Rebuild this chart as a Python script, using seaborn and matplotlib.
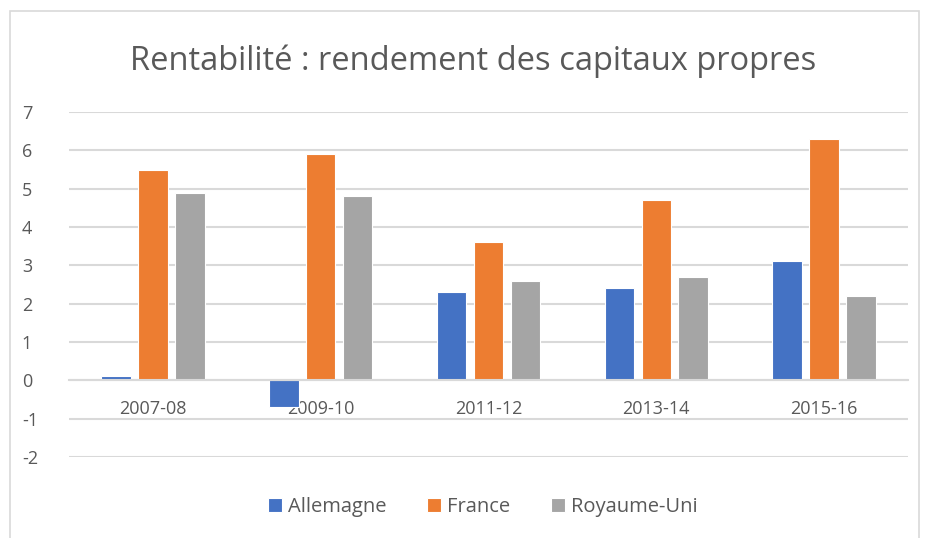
import matplotlib.pyplot as plt
import pandas as pd
import seaborn as sns
from matplotlib.patches import Rectangle

periods = ['2007-08', '2009-10', '2011-12', '2013-14', '2015-16']
allemagne = [0.1, -0.7, 2.3, 2.4, 3.1]
france = [5.5, 5.9, 3.6, 4.7, 6.3]
royaume_uni = [4.9, 4.8, 2.6, 2.7, 2.2]
countries = ['Allemagne', 'France', 'Royaume-Uni']
colors = ['#4472C4', '#ED7D31', '#A5A5A5']
y_ticks = [-2, -1, 0, 1, 2, 3, 4, 5, 6, 7]

rows = []
for name, values in zip(countries, [allemagne, france, royaume_uni]):
    for p, v in zip(periods, values):
        rows.append({'Période': p, 'Pays': name, 'Valeur': v})
df = pd.DataFrame(rows)

sns.set_theme(style='white')
plt.rcParams['font.family'] = ['Open Sans', 'DejaVu Sans']
text_color = '#595959'
grid_color = '#D9D9D9'

fig = plt.figure(figsize=(9.25, 5.38), dpi=100)
ax = fig.add_axes([0.0746, 0.1506, 0.907, 0.6412])

sns.barplot(data=df, x='Période', y='Valeur', hue='Pays', order=periods,
            hue_order=countries, palette=colors, width=0.66, gap=0.2,
            edgecolor='white', linewidth=0.8, saturation=1, ax=ax, legend=True)

ax.set_ylim(-2, 7)
ax.set_xlim(-0.5, len(periods) - 0.5)
ax.set_yticks(y_ticks)
ax.set_yticklabels([str(t) for t in y_ticks])
ax.yaxis.grid(True, color=grid_color, linewidth=1.5)
ax.set_axisbelow(True)
ax.set_xlabel('')
ax.set_ylabel('')
for side in ['left', 'right', 'top']:
    ax.spines[side].set_visible(False)
ax.spines['bottom'].set_position(('data', 0))
ax.spines['bottom'].set_color(grid_color)
ax.spines['bottom'].set_linewidth(1.5)
ax.tick_params(axis='both', length=0, labelsize=13, labelcolor=text_color)
ax.tick_params(axis='x', pad=14)
ax.tick_params(axis='y', pad=34)
for lbl in ax.get_yticklabels():
    lbl.set_horizontalalignment('left')

handles, labels = ax.get_legend_handles_labels()
ax.get_legend().remove()
fig.legend(handles, labels, loc='center', bbox_to_anchor=(0.522, 0.057), ncol=3,
           frameon=False, fontsize=14.5, labelcolor=text_color,
           handlelength=0.7, handleheight=0.7, handletextpad=0.3,
           columnspacing=2.0)

fig.text(0.512, 0.887, 'Rentabilité : rendement des capitaux propres',
         ha='center', va='center', fontsize=23.5, color=text_color)

fig.patches.append(Rectangle((0.011, -0.01), 0.982, 0.99, transform=fig.transFigure,
                             fill=False, edgecolor=grid_color, linewidth=1.2))

fig.savefig('out.png', dpi=100)
